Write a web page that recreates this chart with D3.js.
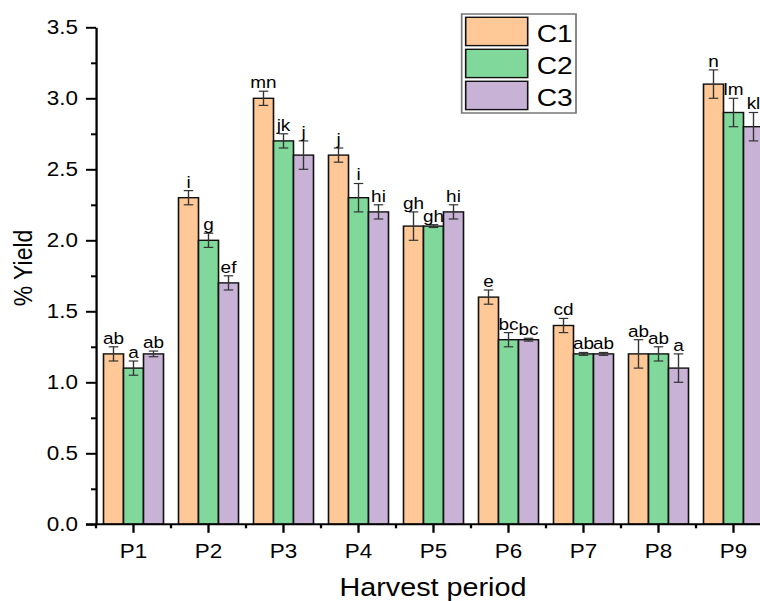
<!DOCTYPE html>
<html lang="en">
<head>
  <meta charset="UTF-8">
  <title>% Yield by harvest period</title>
  <script src="https://d3js.org/d3.v7.min.js"></script>
  <style>
    body { margin: 0; background: #fff; }
    svg { display: block; font-family: "Liberation Sans", Arial, sans-serif; }
    .axis path, .axis line { stroke: #000; stroke-width: 2; }
    .axis text { font-size: 19.5px; fill: #000; }
  </style>
</head>
<body>
<div id="chart"></div>
<script>
  const periods = ["P1", "P2", "P3", "P4", "P5", "P6", "P7", "P8", "P9"];
  const seriesNames = ["C1", "C2", "C3"];
  const c1 = [1.2, 2.3, 3.0, 2.6, 2.1, 1.6, 1.4, 1.2, 3.1];
  const c2 = [1.1, 2.0, 2.7, 2.3, 2.1, 1.3, 1.2, 1.2, 2.9];
  const c3 = [1.2, 1.7, 2.6, 2.2, 2.2, 1.3, 1.2, 1.1, 2.8];
  const err1 = [0.05, 0.05, 0.05, 0.05, 0.1, 0.05, 0.05, 0.1, 0.1];
  const err2 = [0.05, 0.05, 0.05, 0.1, 0.01, 0.05, 0.01, 0.05, 0.1];
  const err3 = [0.02, 0.05, 0.1, 0.05, 0.05, 0.01, 0.01, 0.1, 0.1];
  const lab1 = ["ab", "i", "mn", "j", "gh", "e", "cd", "ab", "n"];
  const lab2 = ["a", "g", "jk", "i", "gh", "bc", "ab", "ab", "lm"];
  const lab3 = ["ab", "ef", "j", "hi", "hi", "bc", "ab", "a", "kl"];
  const colors = ["#FFC896", "#80D99B", "#C8B3D7"];

  const width = 760, height = 601;
  // the original picture is stretched sideways, so draw in a narrower space and scale x
  const sx = 1.15;

  const svg = d3.select("#chart").append("svg")
    .attr("width", width)
    .attr("height", height);
  svg.append("rect").attr("width", width).attr("height", height).attr("fill", "#fff");

  const g = svg.append("g").attr("transform", `scale(${sx},1)`);

  const x = d3.scaleBand()
    .domain(periods)
    .range([96 / sx, 771 / sx])
    .paddingInner(0.2)
    .paddingOuter(0.1);
  const xs = d3.scaleBand()
    .domain(seriesNames)
    .range([0, x.bandwidth()]);
  const y = d3.scaleLinear().domain([0, 3.5]).range([524.3, 27.3]);

  const rows = periods.map((p, i) => ({
    period: p,
    items: [
      { s: "C1", v: c1[i], e: err1[i], lab: lab1[i] },
      { s: "C2", v: c2[i], e: err2[i], lab: lab2[i] },
      { s: "C3", v: c3[i], e: err3[i], lab: lab3[i] }
    ]
  }));

  const groups = g.append("g").selectAll("g")
    .data(rows)
    .join("g")
      .attr("transform", d => `translate(${x(d.period)},0)`);

  const items = groups.selectAll("g")
    .data(d => d.items)
    .join("g");

  items.append("rect")
    .attr("x", d => xs(d.s))
    .attr("y", d => y(d.v))
    .attr("width", xs.bandwidth())
    .attr("height", d => y(0) - y(d.v))
    .attr("fill", (d, i) => colors[i])
    .attr("stroke", "#111")
    .attr("stroke-width", 1.4);

  const capW = 9.5 / sx;
  const eb = items.append("g")
    .attr("stroke", "#333")
    .attr("stroke-width", 1.2);
  eb.append("line")
    .attr("x1", d => xs(d.s) + xs.bandwidth() / 2)
    .attr("x2", d => xs(d.s) + xs.bandwidth() / 2)
    .attr("y1", d => y(d.v + d.e))
    .attr("y2", d => y(d.v - d.e));
  eb.append("line")
    .attr("x1", d => xs(d.s) + xs.bandwidth() / 2 - capW / 2)
    .attr("x2", d => xs(d.s) + xs.bandwidth() / 2 + capW / 2)
    .attr("y1", d => y(d.v + d.e))
    .attr("y2", d => y(d.v + d.e));
  eb.append("line")
    .attr("x1", d => xs(d.s) + xs.bandwidth() / 2 - capW / 2)
    .attr("x2", d => xs(d.s) + xs.bandwidth() / 2 + capW / 2)
    .attr("y1", d => y(d.v - d.e))
    .attr("y2", d => y(d.v - d.e));

  items.append("text")
    .attr("x", d => xs(d.s) + xs.bandwidth() / 2)
    .attr("y", d => y(d.v + d.e) - 3)
    .attr("text-anchor", "middle")
    .attr("font-size", 16.5)
    .attr("fill", "#000")
    .text(d => d.lab);

  // y axis
  g.append("g")
    .attr("class", "axis")
    .attr("transform", `translate(${96 / sx},0)`)
    .call(d3.axisLeft(y).tickValues(d3.range(0.25, 3.5, 0.5)).tickSize(5 / sx).tickFormat("").tickSizeOuter(0))
    .call(a => a.select(".domain").remove());
  g.append("g")
    .attr("class", "axis")
    .attr("transform", `translate(${96 / sx},0)`)
    .call(d3.axisLeft(y).tickValues(d3.range(0, 3.51, 0.5)).tickSize(10 / sx).tickPadding(8 / sx)
      .tickFormat(d3.format(".1f")).tickSizeOuter(0));

  // x axis
  g.append("g")
    .attr("class", "axis")
    .attr("transform", `translate(0,${y(0)})`)
    .call(d3.axisBottom(x).tickSize(8.5).tickPadding(11).tickSizeOuter(0))
    .call(a => a.select(".domain").attr("d", `M${86 / sx},0H${x.range()[1]}`));
  g.append("g")
    .attr("stroke", "#000")
    .attr("stroke-width", 2)
    .selectAll("line")
    .data(d3.range(periods.length + 1))
    .join("line")
      .attr("x1", i => x.range()[0] + i * x.step())
      .attr("x2", i => x.range()[0] + i * x.step())
      .attr("y1", y(0))
      .attr("y2", y(0) + 4);

  // axis titles
  g.append("text")
    .attr("x", 433 / sx)
    .attr("y", 596)
    .attr("text-anchor", "middle")
    .attr("font-size", 25)
    .text("Harvest period");
  g.append("text")
    .attr("transform", `translate(${32 / sx},268) rotate(-90)`)
    .attr("text-anchor", "middle")
    .attr("font-size", 23)
    .text("% Yield");

  // legend
  const leg = g.append("g").attr("transform", `translate(${461.7 / sx},14)`);
  leg.append("rect")
    .attr("width", (576 - 461.7) / sx)
    .attr("height", 99)
    .attr("fill", "#fff")
    .attr("stroke", "#777")
    .attr("stroke-width", 1.5);
  const li = leg.selectAll("g.item")
    .data(seriesNames)
    .join("g")
      .attr("class", "item")
      .attr("transform", (d, i) => `translate(0,${3.3 + i * 32})`);
  li.append("rect")
    .attr("x", 4 / sx)
    .attr("width", 62 / sx)
    .attr("height", 28.3)
    .attr("fill", (d, i) => colors[i])
    .attr("stroke", "#111")
    .attr("stroke-width", 1.4);
  li.append("text")
    .attr("x", 75 / sx)
    .attr("y", 24.3)
    .attr("font-size", 24.5)
    .text(d => d);
</script>
</body>
</html>
